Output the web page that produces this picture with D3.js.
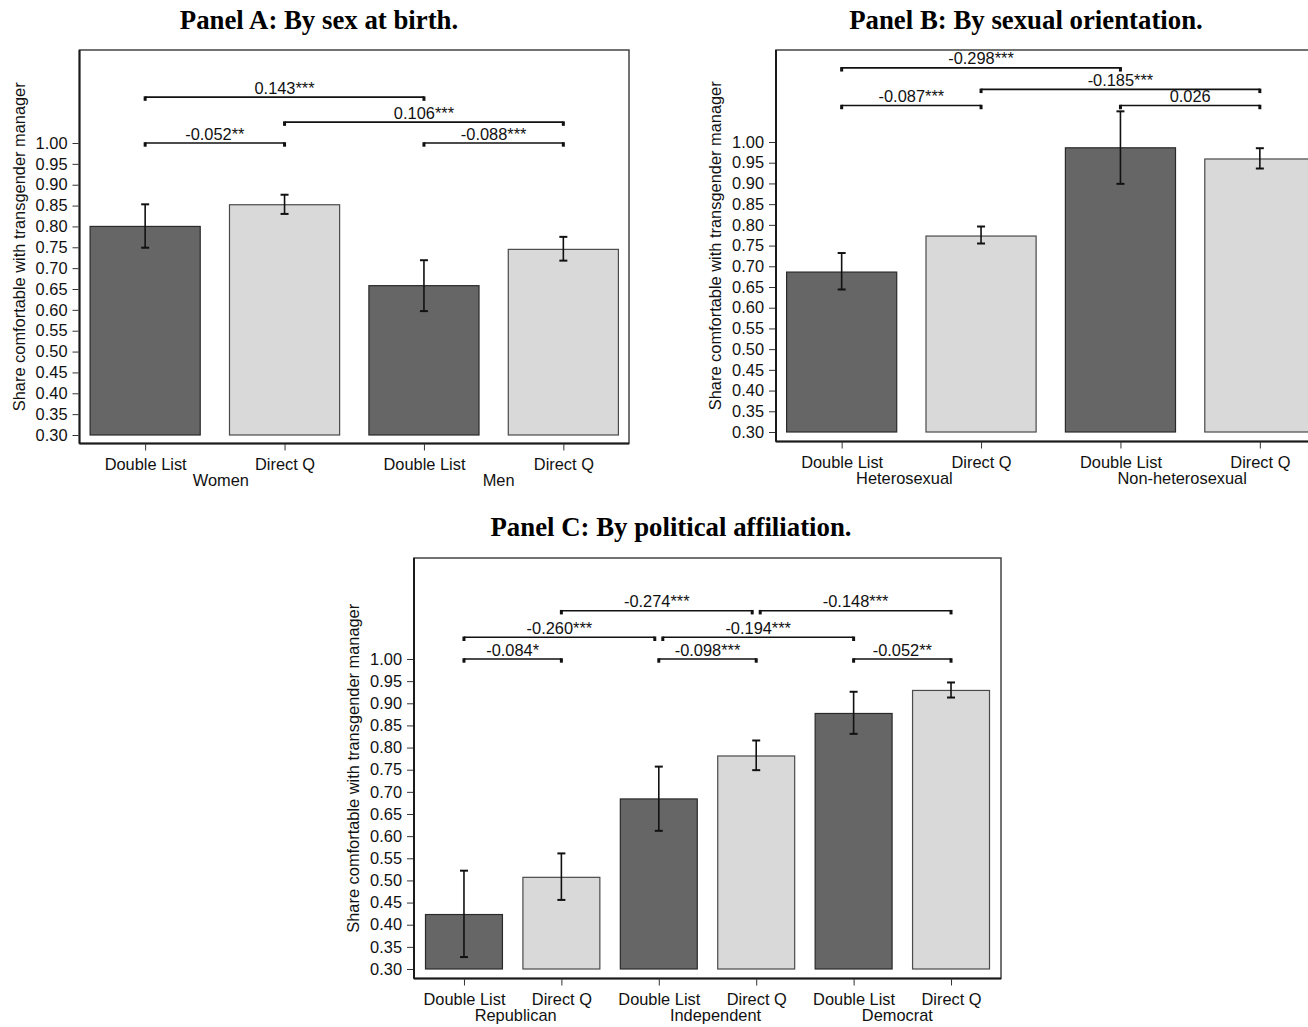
<!DOCTYPE html>
<html>
<head>
<meta charset="utf-8">
<script src="https://cdn.jsdelivr.net/npm/d3@7"></script>
<style>
  html, body { margin: 0; padding: 0; background: #fff; }
  svg { display: block; }
  text { font-family: "Liberation Sans", Arial, Helvetica, sans-serif; fill: #111; }
  .title { font-family: "Liberation Serif", "Times New Roman", serif; font-weight: bold; font-size: 26.8px; fill: #000; }
</style>
</head>
<body>
<svg id="chart" width="1308" height="1027"></svg>
<script>
// ---------------- DATA ----------------
const methods = ["Double List", "Direct Q"];
const yTicks = [0.30, 0.35, 0.40, 0.45, 0.50, 0.55, 0.60, 0.65, 0.70, 0.75, 0.80, 0.85, 0.90, 0.95, 1.00];
const yLabel = "Share comfortable with transgender manager";

// Panel A: by sex at birth
const titleA = "Panel A: By sex at birth.";
const groupsA = ["Women", "Men"];
const valuesA = [0.800, 0.852, 0.658, 0.745];
const lowA    = [0.749, 0.830, 0.597, 0.718];
const highA   = [0.853, 0.876, 0.719, 0.775];
const bracketsA = [
  { from: 0, to: 1, level: 1.00, label: "-0.052**" },
  { from: 2, to: 3, level: 1.00, label: "-0.088***" },
  { from: 1, to: 3, level: 1.05, label: "0.106***" },
  { from: 0, to: 2, level: 1.11, label: "0.143***" }
];

// Panel B: by sexual orientation
const titleB = "Panel B: By sexual orientation.";
const groupsB = ["Heterosexual", "Non-heterosexual"];
const valuesB = [0.686, 0.773, 0.986, 0.959];
const lowB    = [0.644, 0.755, 0.899, 0.936];
const highB   = [0.732, 0.796, 1.074, 0.985];
const bracketsB = [
  { from: 0, to: 1, level: 1.088, label: "-0.087***" },
  { from: 2, to: 3, level: 1.088, label: "0.026" },
  { from: 1, to: 3, level: 1.127, label: "-0.185***" },
  { from: 0, to: 2, level: 1.179, label: "-0.298***" }
];

// Panel C: by political affiliation
const titleC = "Panel C: By political affiliation.";
const groupsC = ["Republican", "Independent", "Democrat"];
const valuesC = [0.423, 0.507, 0.684, 0.781, 0.877, 0.929];
const lowC    = [0.327, 0.456, 0.612, 0.749, 0.831, 0.913];
const highC   = [0.522, 0.561, 0.757, 0.816, 0.926, 0.947];
const bracketsC = [
  { from: 0, to: 1, level: 1.00, label: "-0.084*" },
  { from: 2, to: 3, level: 1.00, label: "-0.098***" },
  { from: 4, to: 5, level: 1.00, label: "-0.052**" },
  { from: 0, to: 2, level: 1.049, label: "-0.260***" },
  { from: 2, to: 4, level: 1.049, label: "-0.194***" },
  { from: 1, to: 3, level: 1.109, label: "-0.274***" },
  { from: 3, to: 5, level: 1.109, label: "-0.148***" }
];

// ---------------- LAYOUT ----------------
const panels = [
  { title: titleA, titleX: 319, titleY: 29, groups: groupsA, values: valuesA, low: lowA, high: highA, brackets: bracketsA,
    left: 79.5, right: 629, top: 50, bottom: 443.5, y30: 435, y100: 143, padOuter: 0.076, groupShift: [6, 5] },
  { title: titleB, titleX: 1026, titleY: 29, groups: groupsB, values: valuesB, low: lowB, high: highB, brackets: bracketsB,
    left: 776, right: 1325.5, top: 50, bottom: 441.5, y30: 432, y100: 142, padOuter: 0.076, groupShift: [-7, -8] },
  { title: titleC, titleX: 671, titleY: 536, groups: groupsC, values: valuesC, low: lowC, high: highC, brackets: bracketsC,
    left: 414, right: 1001, top: 558, bottom: 978.5, y30: 969, y100: 659, padOuter: 0.118, groupShift: [3, 8, -5] }
];

const darkFill = "#666666", lightFill = "#d9d9d9";
const FS = 16.4;
const svg = d3.select("#chart");

panels.forEach(p => drawPanel(p));

function drawPanel(p) {
  const g = svg.append("g");
  const n = p.values.length;
  const y = d3.scaleLinear().domain([0.30, 1.00]).range([p.y30, p.y100]);
  const x = d3.scaleBand().domain(d3.range(n)).range([p.left, p.right])
    .paddingInner(0.21).paddingOuter(p.padOuter);
  const cx = i => x(i) + x.bandwidth() / 2;

  // title
  g.append("text").attr("class", "title")
    .attr("x", p.titleX).attr("y", p.titleY)
    .attr("text-anchor", "middle").text(p.title);

  // frame
  g.append("rect")
    .attr("x", p.left).attr("y", p.top)
    .attr("width", p.right - p.left).attr("height", p.bottom - p.top)
    .attr("fill", "none").attr("stroke", "#444").attr("stroke-width", 1.5);
  g.append("line").attr("x1", p.left).attr("x2", p.left).attr("y1", p.top).attr("y2", p.bottom)
    .attr("stroke", "#1a1a1a").attr("stroke-width", 2);
  g.append("line").attr("x1", p.left).attr("x2", p.right).attr("y1", p.bottom).attr("y2", p.bottom)
    .attr("stroke", "#1a1a1a").attr("stroke-width", 2);

  // y axis via d3.axisLeft
  const yAxis = d3.axisLeft(y).tickValues(yTicks).tickFormat(d3.format(".2f")).tickSize(6).tickPadding(5);
  const ya = g.append("g").attr("transform", `translate(${p.left - 1},0)`).call(yAxis);
  ya.select(".domain").remove();
  ya.selectAll(".tick line").attr("stroke", "#333").attr("stroke-width", 1);
  ya.selectAll(".tick text").attr("font-size", FS).attr("fill", "#111")
    .attr("font-family", "'Liberation Sans', Arial, sans-serif");

  // y label
  g.append("text")
    .attr("transform", `translate(${p.left - 55},${(p.top + p.bottom) / 2}) rotate(-90)`)
    .attr("text-anchor", "middle").attr("font-size", FS).text(yLabel);

  // x axis via d3.axisBottom
  const xPoint = d3.scaleOrdinal().domain(d3.range(n)).range(d3.range(n).map(cx));
  const xAxis = d3.axisBottom(xPoint).tickValues(d3.range(n))
    .tickFormat(i => methods[i % 2]).tickSize(7).tickPadding(8);
  const xa = g.append("g").attr("transform", `translate(0,${p.bottom})`).call(xAxis);
  xa.select(".domain").remove();
  xa.selectAll(".tick line").attr("stroke", "#333").attr("stroke-width", 1);
  xa.selectAll(".tick text").attr("font-size", FS).attr("fill", "#111")
    .attr("font-family", "'Liberation Sans', Arial, sans-serif");

  // group labels
  g.selectAll(".grp").data(p.groups).enter().append("text")
    .attr("x", (d, k) => (cx(2 * k) + cx(2 * k + 1)) / 2 + p.groupShift[k])
    .attr("y", p.bottom + 42.5)
    .attr("text-anchor", "middle").attr("font-size", FS).text(d => d);

  // bars
  g.selectAll(".bar").data(p.values).enter().append("rect")
    .attr("x", (d, i) => x(i)).attr("width", x.bandwidth())
    .attr("y", d => y(d)).attr("height", d => y(0.30) - y(d))
    .attr("fill", (d, i) => i % 2 === 0 ? darkFill : lightFill)
    .attr("stroke", (d, i) => i % 2 === 0 ? "#2a2a2a" : "#4a4a4a")
    .attr("stroke-width", 1.2);

  // error bars
  const capW = 4;
  p.values.forEach((v, i) => {
    const xc = cx(i);
    g.append("line").attr("x1", xc).attr("x2", xc).attr("y1", y(p.low[i])).attr("y2", y(p.high[i]))
      .attr("stroke", "#111").attr("stroke-width", 1.6);
    [p.low[i], p.high[i]].forEach(e => {
      g.append("line").attr("x1", xc - capW).attr("x2", xc + capW).attr("y1", y(e)).attr("y2", y(e))
        .attr("stroke", "#111").attr("stroke-width", 2);
    });
  });

  // brackets
  const gap = 4;
  p.brackets.forEach(b => {
    let x1 = cx(b.from), x2 = cx(b.to);
    p.brackets.forEach(o => {
      if (o === b || Math.abs(o.level - b.level) > 1e-9) return;
      if (o.from === b.to || o.to === b.to) x2 -= gap;
      if (o.from === b.from || o.to === b.from) x1 += gap;
    });
    const yl = y(b.level);
    g.append("line").attr("x1", x1).attr("x2", x2).attr("y1", yl).attr("y2", yl)
      .attr("stroke", "#111").attr("stroke-width", 1.6);
    [x1, x2].forEach(xe => {
      g.append("rect").attr("x", xe - 1.5).attr("y", yl - 0.8).attr("width", 3).attr("height", 4.5)
        .attr("fill", "#111");
    });
    g.append("text").attr("x", (x1 + x2) / 2).attr("y", yl - 3.5)
      .attr("text-anchor", "middle").attr("font-size", FS).text(b.label);
  });
}
</script>
</body>
</html>
